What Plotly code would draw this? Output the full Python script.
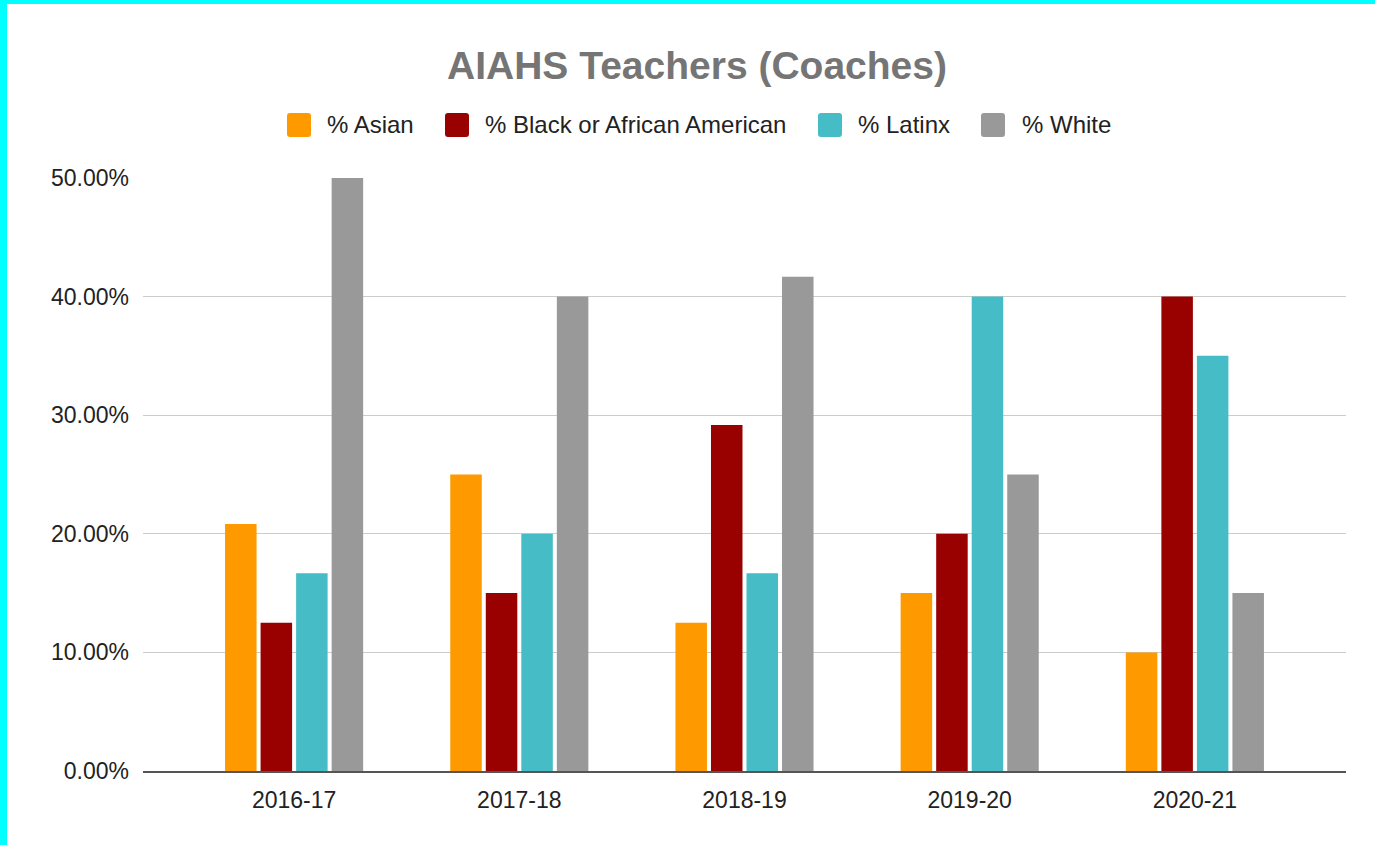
import plotly.graph_objects as go

years = ["2016-17", "2017-18", "2018-19", "2019-20", "2020-21"]
asian = [0.2083, 0.25, 0.125, 0.15, 0.10]
black = [0.125, 0.15, 0.2917, 0.20, 0.40]
latinx = [0.1667, 0.20, 0.1667, 0.40, 0.35]
white = [0.50, 0.40, 0.4167, 0.25, 0.15]

series_names = ["% Asian", "% Black or African American", "% Latinx", "% White"]
series_values = [asian, black, latinx, white]
series_colors = ["#ff9900", "#990000", "#46bdc6", "#999999"]

fig = go.Figure()
for name, vals, col in zip(series_names, series_values, series_colors):
    fig.add_trace(go.Bar(x=years, y=vals, name=name, marker_color=col,
                         marker_line_width=0, showlegend=False))

W, H = 1375, 845
L, R, T, B = 143, 29, 177, 74
pw, ph = W - L - R, H - T - B


def px_x(px):
    return (px - L) / pw


def px_y(py):
    return (H - B - py) / ph


def rounded_square(x0, y0, size, r):
    # pixel coordinates of top-left corner, converted to paper units
    x1, y1 = x0 + size, y0 + size
    pts = [
        f"M{px_x(x0 + r)},{px_y(y0)}",
        f"L{px_x(x1 - r)},{px_y(y0)}",
        f"Q{px_x(x1)},{px_y(y0)} {px_x(x1)},{px_y(y0 + r)}",
        f"L{px_x(x1)},{px_y(y1 - r)}",
        f"Q{px_x(x1)},{px_y(y1)} {px_x(x1 - r)},{px_y(y1)}",
        f"L{px_x(x0 + r)},{px_y(y1)}",
        f"Q{px_x(x0)},{px_y(y1)} {px_x(x0)},{px_y(y1 - r)}",
        f"L{px_x(x0)},{px_y(y0 + r)}",
        f"Q{px_x(x0)},{px_y(y0)} {px_x(x0 + r)},{px_y(y0)}",
        "Z",
    ]
    return " ".join(pts)


shapes = [
    dict(type="rect", xref="paper", yref="paper", x0=px_x(0), x1=px_x(7),
         y0=px_y(H), y1=px_y(0), fillcolor="#00ffff", line_width=0, layer="above"),
    dict(type="rect", xref="paper", yref="paper", x0=px_x(0), x1=px_x(W),
         y0=px_y(4), y1=px_y(0), fillcolor="#00ffff", line_width=0, layer="above"),
]

# custom legend (large rounded swatches like the original)
legend_swatch_x = [287, 445, 818, 981]
legend_text_x = [325, 483, 856, 1020]
legend_y = 125
annotations = []
for name, col, sx, tx in zip(series_names, series_colors, legend_swatch_x, legend_text_x):
    shapes.append(dict(type="path", xref="paper", yref="paper",
                       path=rounded_square(sx, legend_y - 12, 24, 3),
                       fillcolor=col, line_width=0))
    annotations.append(dict(text=name, xref="paper", yref="paper", x=px_x(tx),
                            y=px_y(legend_y), xanchor="left", yanchor="middle",
                            showarrow=False,
                            font=dict(size=24, color="#222222")))

fig.update_layout(
    width=W, height=H,
    margin=dict(l=L, r=R, t=T, b=B),
    paper_bgcolor="white", plot_bgcolor="white",
    font=dict(family="Liberation Sans, Arial, sans-serif", size=23, color="#222222"),
    title=dict(text="<b>AIAHS Teachers (Coaches)</b>", x=697 / W, xanchor="center",
               y=1 - 65 / H, yanchor="middle",
               font=dict(size=39, color="#757575", family="Liberation Sans, Arial, sans-serif")),
    barmode="group", bargap=0.369, bargroupgap=0.113,
    shapes=shapes,
    annotations=annotations,
    showlegend=False,
)
fig.update_xaxes(range=[-0.671, 4.671], showgrid=False, showline=True,
                 linecolor="#555555", linewidth=1.5, ticks="", ticklabelstandoff=8,
                 tickfont=dict(size=23, color="#222222"), fixedrange=True)
fig.update_yaxes(range=[0, 0.5008], tickvals=[0, 0.1, 0.2, 0.3, 0.4, 0.5],
                 ticktext=["0.00%", "10.00%", "20.00%", "30.00%", "40.00%", "50.00%"],
                 showgrid=True, gridcolor="#cccccc", gridwidth=1, zeroline=False,
                 ticks="", ticklabelstandoff=13, tickfont=dict(size=23, color="#222222"),
                 showline=False, fixedrange=True)

fig.write_html("out.html", config={"displayModeBar": False},
               post_script="document.body.style.margin='0';")
